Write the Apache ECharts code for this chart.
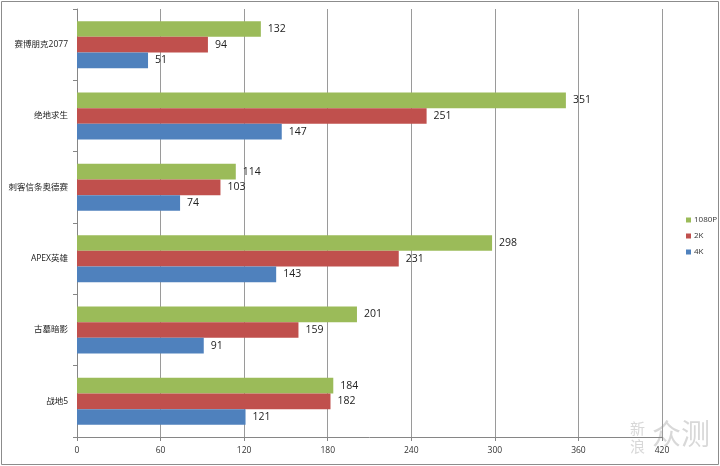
<!DOCTYPE html>
<html><head><meta charset="utf-8">
<script src="https://cdn.jsdelivr.net/npm/echarts@6/dist/echarts.min.js"></script>
<style>html,body{margin:0;padding:0;background:#fff}#c{width:720px;height:466px}</style>
</head><body><div id="c"></div>
<script>
const categories = ['赛博朋克2077','绝地求生','刺客信条奥德赛','APEX英雄','古墓暗影','战地5'];
const seriesNames = ['1080P','2K','4K'];
const v1080 = [132, 351, 114, 298, 201, 184];
const v2k = [94, 251, 103, 231, 159, 182];
const v4k = [51, 147, 74, 143, 91, 121];
const colors = ['#9BBB59','#C0504D','#4F81BD'];
const font = '"Open Sans","Noto Sans CJK SC",sans-serif';
const chart = echarts.init(document.getElementById('c'));
const mk = (name, data, color) => ({
  name, type:'bar', data, barGap:'0%', barCategoryGap:'34%',
  itemStyle:{color},
  label:{show:true, position:'right', distance:7, color:'#222', fontSize:10.5, fontFamily:font},
  animation:false
});
chart.setOption({
  animation:false,
  grid:{left:77, right:58, top:9, bottom:29, containLabel:false},
  legend:{orient:'vertical', left:681, top:210, itemWidth:5, itemHeight:5, itemGap:6,
    icon:'rect', textStyle:{fontSize:8, lineHeight:10, color:'#333', fontFamily:font, padding:[0,0,0,-2]}, data:seriesNames},
  xAxis:{type:'value', min:0, max:420, interval:60,
    axisLine:{show:true, lineStyle:{color:'#868686'}},
    axisTick:{show:true, length:4, lineStyle:{color:'#868686'}},
    axisLabel:{fontSize:8.5, color:'#333', margin:9, fontFamily:font},
    splitLine:{show:true, lineStyle:{color:'#9a9a9a', width:1}}},
  yAxis:{type:'category', data:categories, inverse:true,
    axisLine:{show:true, lineStyle:{color:'#868686'}},
    axisTick:{show:true, length:4, alignWithLabel:false, lineStyle:{color:'#868686'}},
    axisLabel:{fontSize:8.5, color:'#222', margin:9, fontFamily:font}},
  series:[mk(seriesNames[0], v1080, colors[0]), mk(seriesNames[1], v2k, colors[1]), mk(seriesNames[2], v4k, colors[2])],
  graphic:[
    {type:'rect', shape:{x:1.5, y:1.5, width:717, height:463}, style:{fill:'none', stroke:'#8c8c8c', lineWidth:1}, silent:true},
    {type:'text', left:630, top:421, style:{text:'新', fontSize:15, fill:'rgba(190,190,190,0.6)', fontFamily:'"Noto Sans CJK SC"'}, silent:true},
    {type:'text', left:630, top:439, style:{text:'浪', fontSize:15, fill:'rgba(190,190,190,0.6)', fontFamily:'"Noto Sans CJK SC"'}, silent:true},
    {type:'text', left:652, top:419, style:{text:'众测', fontSize:29, fill:'rgba(190,190,190,0.6)', fontFamily:'"Noto Sans CJK SC"'}, silent:true}
  ]
});
</script></body></html>
